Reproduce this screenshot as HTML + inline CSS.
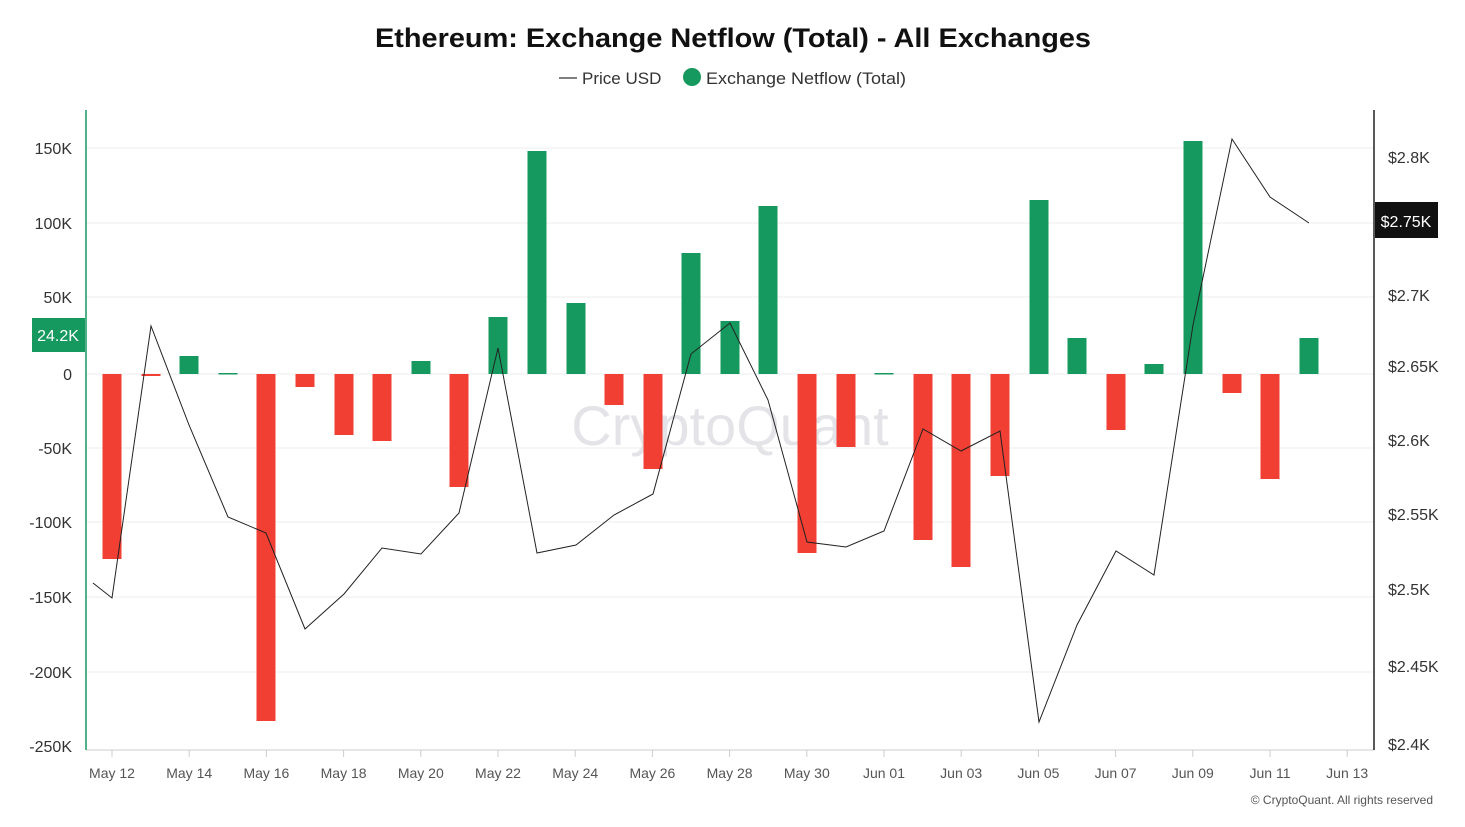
<!DOCTYPE html>
<html><head><meta charset="utf-8"><style>
body{margin:0;background:#fff;font-family:"Liberation Sans",sans-serif;}
</style></head><body>
<svg width="1465" height="822" xmlns="http://www.w3.org/2000/svg" font-family="Liberation Sans, sans-serif">
<rect width="1465" height="822" fill="#fff"/>
<text x="375" y="47" textLength="716" lengthAdjust="spacingAndGlyphs" font-size="27" font-weight="bold" fill="#111">Ethereum: Exchange Netflow (Total) - All Exchanges</text>
<line x1="559" y1="78" x2="577" y2="78" stroke="#333" stroke-width="1.2"/>
<text x="582" y="84" font-size="17" fill="#333">Price USD</text>
<circle cx="692" cy="77" r="9" fill="#16995e"/>
<text x="706" y="84" font-size="17" fill="#333" textLength="200" lengthAdjust="spacingAndGlyphs">Exchange Netflow (Total)</text>
<g stroke="#eee" stroke-width="1">
<line x1="86" x2="1374" y1="148" y2="148"/><line x1="86" x2="1374" y1="223" y2="223"/>
<line x1="86" x2="1374" y1="297" y2="297"/><line x1="86" x2="1374" y1="374" y2="374"/>
<line x1="86" x2="1374" y1="448" y2="448"/><line x1="86" x2="1374" y1="522" y2="522"/>
<line x1="86" x2="1374" y1="597" y2="597"/><line x1="86" x2="1374" y1="672" y2="672"/>
</g>
<line x1="86" x2="1374" y1="750" y2="750" stroke="#ccc"/>
<text x="730" y="445" text-anchor="middle" font-size="56" fill="#e4e4e8">CryptoQuant</text>
<g font-size="16" fill="#333" text-anchor="end">
<text x="72" y="154">150K</text><text x="72" y="229">100K</text><text x="72" y="303">50K</text>
<text x="72" y="380">0</text><text x="72" y="454">-50K</text><text x="72" y="528">-100K</text>
<text x="72" y="603">-150K</text><text x="72" y="678">-200K</text><text x="72" y="752">-250K</text>
</g>
<g font-size="16" fill="#333">
<text x="1388" y="163">$2.8K</text><text x="1388" y="301">$2.7K</text>
<text x="1388" y="372">$2.65K</text><text x="1388" y="446">$2.6K</text><text x="1388" y="520">$2.55K</text>
<text x="1388" y="595">$2.5K</text><text x="1388" y="672">$2.45K</text><text x="1388" y="750">$2.4K</text>
</g>
<line x1="86" y1="110" x2="86" y2="750" stroke="#16995e" stroke-width="1.5"/>
<line x1="1374" y1="110" x2="1374" y2="750" stroke="#222" stroke-width="1.5"/>
<g id="bars"></g>
<polyline fill="none" stroke="#222" stroke-width="1" points="93,583 112,598 151,326 189,425 228,517 266,533 305,629 344,594 382,548 421,554 459,513 498,348 537,553 576,545 614,515 653,494 691,354 730,323 768,400 807,542 846,547 884,531 923,429 961,451 1000,431 1039,722 1077,625 1116,551 1154,575 1193,325 1232,139 1270,197 1309,223"/>
<rect x="32" y="318" width="53" height="34" fill="#16995e"/>
<text x="58" y="341" text-anchor="middle" font-size="16" fill="#fff">24.2K</text>
<rect x="1375" y="202" width="63" height="36" fill="#111"/>
<text x="1406" y="227" text-anchor="middle" font-size="16" fill="#fff">$2.75K</text>
<g font-size="14" fill="#555" text-anchor="middle" id="xl"></g>
<g stroke="#ccc" id="xt"></g>
<text x="1433" y="804" text-anchor="end" font-size="12" fill="#555">© CryptoQuant. All rights reserved</text>
<script>
var ns="http://www.w3.org/2000/svg";
var d=[[112,559],[151,376],[189,356],[228,373],[266,721],[305,387],[344,435],[382,441],[421,361],[459,487],[498,317],[537,151],[576,303],[614,405],[653,469],[691,253],[730,321],[768,206],[807,553],[846,447],[884,373],[923,540],[961,567],[1000,476],[1039,200],[1077,338],[1116,430],[1154,364],[1193,141],[1232,393],[1270,479],[1309,338]];
var g=document.getElementById("bars");
d.forEach(function(b){var r=document.createElementNS(ns,"rect");var y0=Math.min(b[1],374),h=Math.abs(b[1]-374);if(h<1.5)h=1.5;
r.setAttribute("x",b[0]-9.5);r.setAttribute("y",y0);r.setAttribute("width",19);r.setAttribute("height",h);
r.setAttribute("fill",b[1]<374?"#16995e":"#f23f33");g.appendChild(r);});
var labs=["May 12","May 14","May 16","May 18","May 20","May 22","May 24","May 26","May 28","May 30","Jun 01","Jun 03","Jun 05","Jun 07","Jun 09","Jun 11","Jun 13"];
var xl=document.getElementById("xl"),xt=document.getElementById("xt");
labs.forEach(function(l,i){var x=112+i*77.2;var t=document.createElementNS(ns,"text");t.setAttribute("x",x);t.setAttribute("y",778);t.textContent=l;xl.appendChild(t);
var k=document.createElementNS(ns,"line");k.setAttribute("x1",x);k.setAttribute("x2",x);k.setAttribute("y1",750);k.setAttribute("y2",757);xt.appendChild(k);});
</script>
</svg>
</body></html>
